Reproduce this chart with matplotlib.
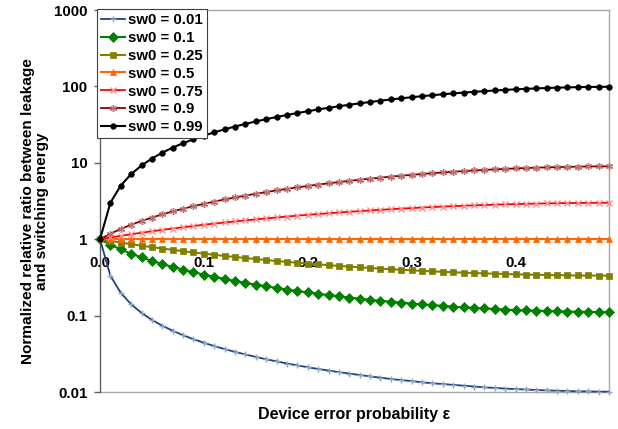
import matplotlib
matplotlib.use("Agg")
import matplotlib.pyplot as plt
from matplotlib.ticker import FixedLocator, FixedFormatter, NullFormatter
from matplotlib.lines import Line2D

plt.rcParams['font.family'] = ['Liberation Sans', 'DejaVu Sans']
plt.rcParams['font.weight'] = 'bold'

# Device error probability (categories 0.00 ... 0.49)
eps = [round(i * 0.01, 2) for i in range(50)]

sw0_labels = ["sw0 = 0.01", "sw0 = 0.1", "sw0 = 0.25", "sw0 = 0.5",
              "sw0 = 0.75", "sw0 = 0.9", "sw0 = 0.99"]

r_001 = [1.0, 0.333, 0.198, 0.1406, 0.1083, 0.0879, 0.0737, 0.0633, 0.0554, 0.0491,
         0.0441, 0.0399, 0.0365, 0.0335, 0.0310, 0.0288, 0.0268, 0.0252, 0.0236, 0.0223,
         0.0211, 0.0200, 0.0191, 0.0182, 0.0174, 0.0167, 0.0160, 0.0154, 0.0148, 0.0143,
         0.0139, 0.0134, 0.0130, 0.0127, 0.0124, 0.0121, 0.0118, 0.0115, 0.0113, 0.0111,
         0.0109, 0.0108, 0.0106, 0.0105, 0.0104, 0.0103, 0.0102, 0.0102, 0.0101, 0.0101]

r_01 = [1.0, 0.848, 0.735, 0.647, 0.577, 0.520, 0.473, 0.433, 0.399, 0.370,
        0.344, 0.322, 0.302, 0.284, 0.269, 0.254, 0.242, 0.230, 0.219, 0.210,
        0.201, 0.193, 0.186, 0.179, 0.172, 0.167, 0.161, 0.156, 0.152, 0.148,
        0.144, 0.140, 0.137, 0.134, 0.131, 0.128, 0.126, 0.124, 0.122, 0.120,
        0.118, 0.117, 0.116, 0.115, 0.114, 0.113, 0.112, 0.112, 0.111, 0.111]

r_025 = [1.0, 0.949, 0.903, 0.861, 0.822, 0.787, 0.755, 0.725, 0.697, 0.671,
         0.647, 0.625, 0.604, 0.585, 0.567, 0.550, 0.534, 0.519, 0.505, 0.492,
         0.480, 0.468, 0.457, 0.447, 0.438, 0.429, 0.420, 0.412, 0.405, 0.398,
         0.391, 0.385, 0.380, 0.374, 0.369, 0.365, 0.360, 0.357, 0.353, 0.350,
         0.347, 0.344, 0.342, 0.340, 0.338, 0.337, 0.335, 0.335, 0.334, 0.333]

r_05 = [1.0] * 50

r_075 = [1.0, 1.054, 1.107, 1.161, 1.216, 1.270, 1.325, 1.380, 1.435, 1.490,
         1.545, 1.601, 1.655, 1.710, 1.765, 1.819, 1.873, 1.927, 1.980, 2.033,
         2.085, 2.136, 2.187, 2.237, 2.285, 2.333, 2.380, 2.426, 2.470, 2.514,
         2.556, 2.596, 2.635, 2.672, 2.708, 2.742, 2.774, 2.804, 2.832, 2.858,
         2.882, 2.904, 2.924, 2.942, 2.957, 2.970, 2.981, 2.989, 2.995, 2.999]

r_09 = [1.0, 1.179, 1.361, 1.546, 1.733, 1.922, 2.114, 2.309, 2.505, 2.704,
        2.905, 3.107, 3.311, 3.517, 3.723, 3.931, 4.139, 4.348, 4.557, 4.767,
        4.975, 5.183, 5.390, 5.595, 5.799, 6.000, 6.199, 6.394, 6.586, 6.774,
        6.957, 7.136, 7.309, 7.476, 7.637, 7.791, 7.938, 8.077, 8.207, 8.329,
        8.442, 8.545, 8.639, 8.722, 8.795, 8.857, 8.908, 8.948, 8.977, 8.994]

r_099 = [1.0, 3.00, 5.04, 7.11, 9.23, 11.38, 13.57, 15.80, 18.06, 20.35,
         22.68, 25.04, 27.43, 29.85, 32.30, 34.77, 37.26, 39.76, 42.29, 44.82,
         47.36, 49.91, 52.45, 54.99, 57.52, 60.04, 62.53, 64.99, 67.42, 69.82,
         72.16, 74.45, 76.69, 78.85, 80.94, 82.95, 84.87, 86.70, 88.42, 90.03,
         91.53, 92.91, 94.15, 95.27, 96.24, 97.08, 97.77, 98.30, 98.69, 98.92]

series = [r_001, r_01, r_025, r_05, r_075, r_09, r_099]

x_tick_vals = [0.0, 0.1, 0.2, 0.3, 0.4]
x_tick_labels = ["0.0", "0.1", "0.2", "0.3", "0.4"]
y_tick_vals = [0.01, 0.1, 1, 10, 100, 1000]
y_tick_labels = ["0.01", "0.1", "1", "10", "100", "1000"]

styles = [
    dict(color='#1F4479', marker='+', ms=4.5, mec='#8EA6C6', mfc='#8EA6C6', mew=1.0, lw=1.3),
    dict(color='#008000', marker='D', ms=5, mec='#008000', mfc='#008000', mew=0.5, lw=1.5),
    dict(color='#808000', marker='s', ms=4.2, mec='#808000', mfc='#808000', mew=0.5, lw=1.5),
    dict(color='#FF6600', marker='^', ms=4.8, mec='#FF6600', mfc='#FF6600', mew=0.5, lw=1.5),
    dict(color='#FF0000', marker='x', ms=4, mec='#FF8C8C', mfc='#FF8C8C', mew=1.0, lw=1.3),
    dict(color='#800000', marker=(6, 2, 0), ms=5, mec='#C07070', mfc='#C07070', mew=1.0, lw=1.3),
    dict(color='#000000', marker='o', ms=4, mec='#000000', mfc='#000000', mew=0.5, lw=1.5),
]

W, H = 618, 429
fig = plt.figure(figsize=(W / 100, H / 100), dpi=100)
ax = fig.add_axes([100 / W, 1 - 392 / H, (609 - 100) / W, (392 - 10) / H])

for vals, lab, st in zip(series, sw0_labels, styles):
    ax.plot(eps, vals, label=lab, clip_on=False, zorder=3, **st)

ax.set_yscale('log')
ax.set_ylim(0.01, 1000)
ax.set_xlim(eps[0], eps[-1])

# y axis
ax.yaxis.set_major_locator(FixedLocator(y_tick_vals))
ax.yaxis.set_major_formatter(FixedFormatter(y_tick_labels))
ax.yaxis.set_minor_locator(FixedLocator([]))
ax.yaxis.set_minor_formatter(NullFormatter())
ax.tick_params(axis='y', which='major', direction='out', length=4, width=1,
               color='#606060', pad=5, labelsize=10.8)
for t in ax.get_yticklabels():
    t.set_fontweight('bold')

# x axis crossing at y = 1
ax.spines['bottom'].set_position(('data', 1))
ax.spines['bottom'].set_color('#808080')
ax.spines['bottom'].set_zorder(2)
ax.xaxis.set_major_locator(FixedLocator(x_tick_vals))
ax.xaxis.set_major_formatter(FixedFormatter(x_tick_labels))
ax.xaxis.set_minor_locator(FixedLocator([0.05, 0.15, 0.25, 0.35, 0.45]))
ax.tick_params(axis='x', which='both', direction='out', length=3, width=1,
               color='#808080', pad=9, labelsize=10.8)
for t in ax.get_xticklabels():
    t.set_fontweight('bold')

ax.spines['left'].set_color('#606060')
ax.spines['left'].set_linewidth(1.0)
for s in ['top', 'right']:
    ax.spines[s].set_color('#A6A6A6')
    ax.spines[s].set_linewidth(1.0)

# bottom border of plot area
ax.add_line(Line2D([0, 1], [0, 0], transform=ax.transAxes, color='#A6A6A6',
                   lw=1.0, clip_on=False, zorder=1))

ax.set_xlabel('Device error probability ε', fontsize=11.5, fontweight='bold')
ax.xaxis.set_label_coords(0.5, -0.04)
ax.set_ylabel('Normalized relative ratio between leakage\nand switching energy',
              fontsize=11.1, fontweight='bold', linespacing=1.05)
ax.yaxis.set_label_coords(-0.1, 0.4725)

leg = ax.legend(loc='upper left', bbox_to_anchor=(-0.006, 1.002), frameon=True,
                fancybox=False, edgecolor='#404040', framealpha=1,
                prop={'weight': 'bold', 'size': 10.8}, handlelength=1.6,
                handletextpad=0.25, labelspacing=0.26, borderpad=0.25,
                borderaxespad=0.0, numpoints=1)
leg.get_frame().set_linewidth(0.8)
leg.set_zorder(5)

fig.savefig('out.png', dpi=100)
